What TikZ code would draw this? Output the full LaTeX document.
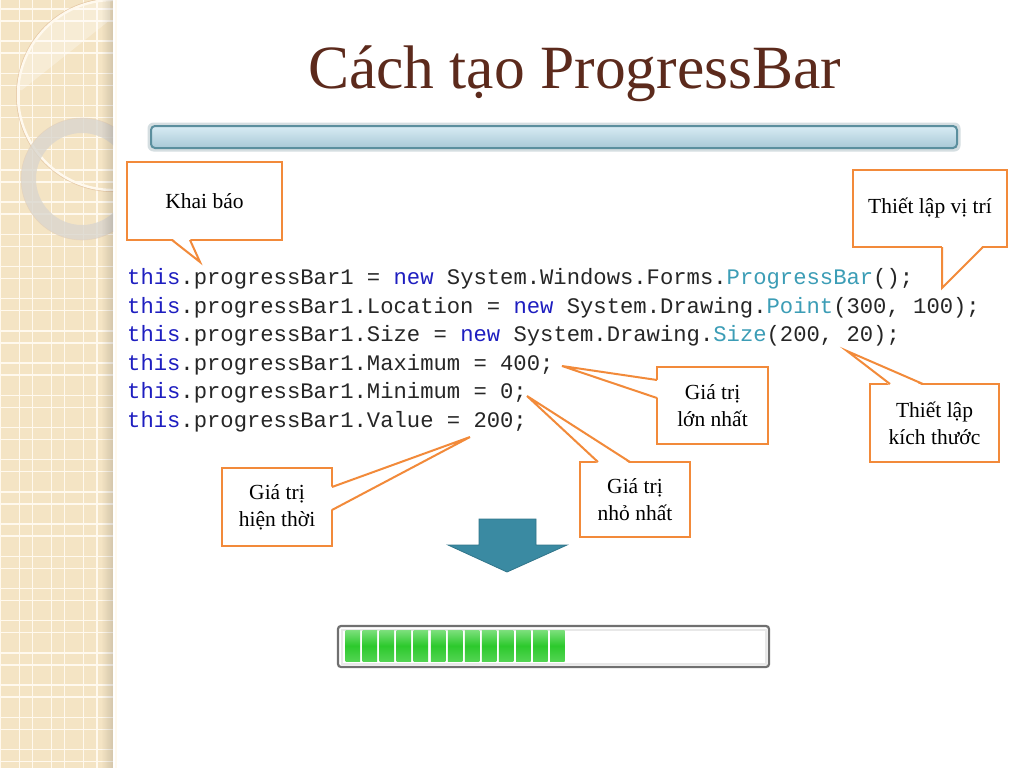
\documentclass[tikz,border=0pt]{standalone}
\usepackage{fontspec}
\setmainfont{Liberation Serif}
\setmonofont{Liberation Mono}
\usetikzlibrary{calc}

\definecolor{stripbg}{HTML}{F4E4C4}
\definecolor{stripline}{HTML}{FFF9EE}
\definecolor{ringgray}{HTML}{DAD6CE}
\definecolor{titlebrown}{HTML}{5C2A1C}
\definecolor{callorange}{HTML}{F28A3A}
\definecolor{kwblue}{HTML}{1E1EC0}
\definecolor{typeteal}{HTML}{3C9DB6}
\definecolor{codegray}{HTML}{262626}
\definecolor{arrowblue}{HTML}{3A8AA2}
\definecolor{barborder}{HTML}{5B8F9E}
\definecolor{bartop}{HTML}{D8ECF4}
\definecolor{barbot}{HTML}{A8C8D6}
\definecolor{barglow}{HTML}{B9C9CE}
\definecolor{segtop}{HTML}{7ADF7A}
\definecolor{segmid}{HTML}{2CC92C}
\definecolor{segbot}{HTML}{52D452}
\definecolor{frame}{HTML}{707070}

\newcommand{\kw}[1]{\textcolor{kwblue}{#1}}
\newcommand{\ty}[1]{\textcolor{typeteal}{#1}}

\tikzset{
  callbox/.style={draw=callorange, line width=2pt, fill=white, inner sep=0pt, outer sep=0pt,
    align=center, font=\fontsize{21.5}{27}\selectfont},
  tailline/.style={draw=callorange, line width=2pt, line join=miter},
  codeline/.style={anchor=base west, inner sep=0pt, text=codegray,
    font=\ttfamily\fontsize{22.2}{28}\selectfont\frenchspacing},
  segment/.style={top color=segtop, bottom color=segbot, middle color=segmid},
}

\begin{document}
\begin{tikzpicture}[x=1pt, y=-1pt]
  \fill[white] (0,0) rectangle (1024,768);
  \useasboundingbox (0,0) rectangle (1024,768);

  % left strip
  \fill[stripbg] (0,0) rectangle (113,768);
  \foreach \g in {0,...,3} {
    \draw[stripline, line width=1.3pt] ({0.4+32.2*\g},0) -- ({0.4+32.2*\g},768);
    \draw[stripline, line width=1.3pt] ({19.4+32.2*\g},0) -- ({19.4+32.2*\g},768);
  }
  \foreach \g in {0,...,23} {
    \draw[stripline, line width=1.3pt] (0,{8.9+32.2*\g}) -- (113,{8.9+32.2*\g});
    \draw[stripline, line width=1.3pt] (0,{20.9+32.2*\g}) -- (113,{20.9+32.2*\g});
  }
  \begin{scope}
    \clip (0,0) rectangle (113,768);
    \begin{scope}
      \clip (0,0) -- (110,0) -- (110,20) -- (22,90) -- (0,90) -- cycle;
      \fill[white, opacity=0.3] (113,95) circle[radius=95];
    \end{scope}
    \draw[brown!60, opacity=0.5, line width=1pt] (113,95) circle[radius=96.5];
    \draw[stripline, line width=2.4pt] (113,95) circle[radius=95];
    \fill[ringgray, opacity=0.8, even odd rule] (82,179) circle[radius=61] (82,179) circle[radius=46];
    \draw[brown!40, opacity=0.5, line width=0.6pt] (82,179) circle[radius=61];
  \end{scope}
  \foreach \s in {0,...,11}
    \fill[black, opacity=0.011*\s] (101+\s,0) rectangle (102+\s,768);

  % title
  \node[font=\fontsize{61.5}{70}\selectfont, text=titlebrown, anchor=base, inner sep=0pt] (ttl) at (574.5,88) {Cách tạo ProgressBar};
  \fill[barglow, opacity=0.6, rounded corners=6pt] (147.5,122.5) rectangle (960.5,151.5);
  \shadedraw[top color=bartop, bottom color=barbot, draw=barborder, line width=2pt, rounded corners=4pt] (151,126) rectangle (957,148);

  % code
  \node[codeline] (l1) at (127,284.5) {\kw{this}.progressBar1 = \kw{new} System.Windows.Forms.\ty{ProgressBar}();};
  \node[codeline] (l2) at (127,313.1) {\kw{this}.progressBar1.Location = \kw{new} System.Drawing.\ty{Point}(300, 100);};
  \node[codeline] (l3) at (127,341.7) {\kw{this}.progressBar1.Size = \kw{new} System.Drawing.\ty{Size}(200, 20);};
  \node[codeline] (l4) at (127,370.3) {\kw{this}.progressBar1.Maximum = 400;};
  \node[codeline] (l5) at (127,398.9) {\kw{this}.progressBar1.Minimum = 0;};
  \node[codeline] (l6) at (127,427.5) {\kw{this}.progressBar1.Value = 200;};

  % callouts
  \node[callbox, minimum width=155pt, minimum height=78pt] (kb) at (204.5,201) {Khai báo};
  \node[callbox, minimum width=154pt, minimum height=77pt] (vt) at (930,208.5) {Thiết lập vị trí};
  \node[callbox, minimum width=111pt, minimum height=77pt] (ln) at (712.5,405.5) {Giá trị\\lớn nhất};
  \node[callbox, minimum width=129pt, minimum height=78pt] (kt) at (934.5,423) {Thiết lập\\kích thước};
  \node[callbox, minimum width=110pt, minimum height=75pt] (nn) at (635,499.5) {Giá trị\\nhỏ nhất};
  \node[callbox, minimum width=110pt, minimum height=78pt] (ht) at (277,507) {Giá trị\\hiện thời};

  \coordinate (kbtip) at (200,262);
  \coordinate (vttip) at (942,288);
  \coordinate (lntip) at (562,366);
  \coordinate (kttip) at (847,351);
  \coordinate (nntip) at (527,396);
  \coordinate (httip) at (470,437);

  \fill[white] ($(kb.south west)+(45,-1.6)$) -- (kbtip) -- ($(kb.south west)+(63,-1.6)$) -- cycle;
  \draw[tailline] ($(kb.south west)+(45,0)$) -- (kbtip) -- ($(kb.south west)+(63,0)$);
  \fill[white] ($(vt.south west)+(89,-1.6)$) -- (vttip) -- ($(vt.south west)+(130,-1.6)$) -- cycle;
  \draw[tailline] ($(vt.south west)+(89,0)$) -- (vttip) -- ($(vt.south west)+(130,0)$);
  \fill[white] ($(ln.north west)+(1.6,13)$) -- (lntip) -- ($(ln.north west)+(1.6,31)$) -- cycle;
  \draw[tailline] ($(ln.north west)+(0,13)$) -- (lntip) -- ($(ln.north west)+(0,31)$);
  \fill[white] ($(kt.north west)+(20,1.6)$) -- (kttip) -- ($(kt.north west)+(53,1.6)$) -- cycle;
  \draw[tailline] ($(kt.north west)+(20,0)$) -- (kttip) -- ($(kt.north west)+(53,0)$);
  \fill[white] ($(nn.north west)+(18,1.6)$) -- (nntip) -- ($(nn.north west)+(50,1.6)$) -- cycle;
  \draw[tailline] ($(nn.north west)+(18,0)$) -- (nntip) -- ($(nn.north west)+(50,0)$);
  \fill[white] ($(ht.north east)+(-1.6,19)$) -- (httip) -- ($(ht.north east)+(-1.6,42)$) -- cycle;
  \draw[tailline] ($(ht.north east)+(0,19)$) -- (httip) -- ($(ht.north east)+(0,42)$);

  % down arrow
  \filldraw[fill=arrowblue, draw=arrowblue!85!black, line width=0.8pt]
    (479,519) -- (536,519) -- (536,545) -- (567,545) -- (507,572) -- (448,545) -- (479,545) -- cycle;

  % progress bar
  \draw[draw=frame, line width=2.2pt, fill=white, rounded corners=3pt] (338,626) rectangle (769,667);
  \draw[gray!18, line width=2pt] (341.5,629.5) rectangle (765.5,663.5);
  \foreach \i in {0,...,12}
    \shade[segment] ({345.5+17.05*\i},630.5) rectangle ({360+17.05*\i},661);
\end{tikzpicture}
\end{document}
